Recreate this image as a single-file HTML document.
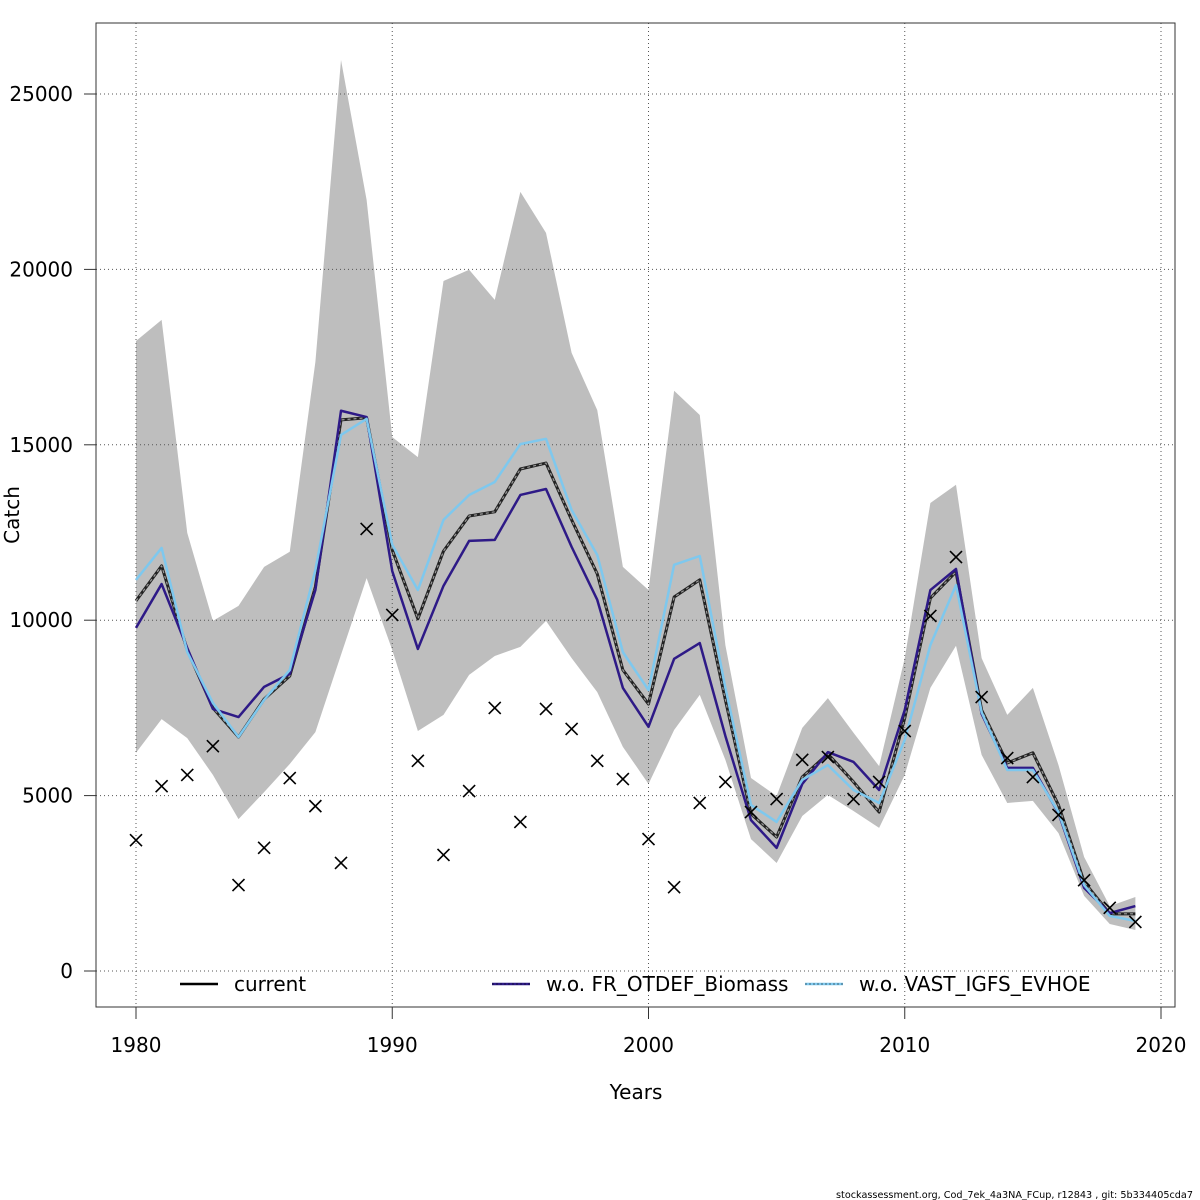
<!DOCTYPE html>
<html><head><meta charset="utf-8"><style>
html,body{margin:0;padding:0;background:#fff;}
svg{display:block;font-family:"DejaVu Sans","Liberation Sans",sans-serif;}
</style></head><body>
<svg id="chart" width="1200" height="1200" viewBox="0 0 1200 1200"></svg>
<script>
const years=[];for(let y=1980;y<=2019;y++)years.push(y);
const upper=[17960,18560,12490,9980,10410,11520,11950,17360,25970,21980,15220,14650,19670,19990,19130,22210,21040,17620,15990,11520,10860,16540,15850,9290,5500,4990,6930,7780,6790,5840,8920,13340,13860,8920,7300,8070,5870,3250,1850,2110];
const lower=[6220,7180,6640,5590,4330,5100,5900,6810,9010,11200,9150,6840,7300,8440,8980,9240,9980,8920,7950,6390,5330,6870,7870,6020,3760,3080,4420,5020,4560,4080,5590,8070,9270,6160,4790,4850,3930,2140,1340,1170];
const current=[10550,11550,9150,7500,6670,7750,8410,10950,15710,15770,12000,10040,11970,12970,13090,14310,14480,12860,11320,8580,7610,10660,11150,7730,4480,3820,5530,6190,5390,4530,7210,10630,11380,7440,5930,6220,4730,2540,1630,1630];
const woFR=[9780,11030,9210,7470,7240,8100,8470,10860,15970,15790,11400,9180,10980,12260,12290,13570,13740,12090,10580,8070,6960,8900,9350,6700,4300,3510,5330,6240,5960,5160,7440,10860,11460,7330,5790,5790,4500,2370,1650,1850];
const woVAST=[11150,12060,9090,7640,6670,7730,8580,11430,15280,15740,12150,10860,12860,13570,13940,15020,15170,13140,11860,9090,8010,11580,11830,8070,4730,4250,5450,5870,5160,4790,6590,9290,11000,7380,5730,5730,4530,2450,1570,1430];
const observed=[3730,5270,5590,6410,2450,3510,5500,4700,3080,12600,10150,5990,3310,5130,7500,4250,7470,6900,5990,5470,3760,2390,4790,5390,4530,4900,6020,6100,4900,5390,6840,10120,11800,7810,6070,5530,4450,2590,1800,1400];
const xTicks=[1980,1990,2000,2010,2020];
const yTicks=[0,5000,10000,15000,20000,25000];

const NS="http://www.w3.org/2000/svg";
const svg=document.getElementById('chart');
const X=v=>136+(v-1980)*25.625;
const Y=v=>971-v*(877/25000);
function el(t,a,p){const e=document.createElementNS(NS,t);for(const k in a)e.setAttribute(k,a[k]);(p||svg).appendChild(e);return e;}

let pts=years.map((y,i)=>X(y)+','+Y(upper[i]));
for(let i=years.length-1;i>=0;i--)pts.push(X(years[i])+','+Y(lower[i]));
const band=el('polygon',{points:pts.join(' '),fill:'#bebebe',stroke:'none'});



xTicks.forEach(t=>{const g=el('line',{x1:X(t),x2:X(t),y1:23,y2:1007,stroke:'#555','stroke-width':1,'stroke-dasharray':'1,3'});

});
yTicks.forEach(t=>{const g=el('line',{x1:96,x2:1175,y1:Y(t),y2:Y(t),stroke:'#555','stroke-width':1,'stroke-dasharray':'1,3'});

});

function line(arr,attrs,name){const d=years.map((y,i)=>X(y)+','+Y(arr[i])).join(' ');
const p=el('polyline',Object.assign({points:d,fill:'none','stroke-linejoin':'round'},attrs));

return p;}
line(current,{stroke:'#222','stroke-width':3},'current-line-base');
line(current,{stroke:'#999','stroke-width':1.2,'stroke-dasharray':'3,3'},'current-line');
line(woFR,{stroke:'#2e1a87','stroke-width':2.5},'wo-fr-otdef-line');
line(woVAST,{stroke:'#7ec8ee','stroke-width':2.5},'wo-vast-line');

years.forEach((y,i)=>{const cx=X(y),cy=Y(observed[i]);
const m=el('path',{d:`M${cx-6},${cy-6}L${cx+6},${cy+6}M${cx-6},${cy+6}L${cx+6},${cy-6}`,stroke:'#000','stroke-width':1.6});

});

const box=el('rect',{x:96,y:23,width:1079,height:984,fill:'none',stroke:'#333','stroke-width':1});



xTicks.forEach(t=>{const tk=el('line',{x1:X(t),x2:X(t),y1:1007,y2:1019,stroke:'#333'});


const tx=el('text',{x:X(t),y:1052,'text-anchor':'middle','font-size':20});tx.textContent=t;

});
yTicks.forEach(t=>{const tk=el('line',{x1:84,x2:96,y1:Y(t),y2:Y(t),stroke:'#333'});


const tx=el('text',{x:73,y:Y(t)+7,'text-anchor':'end','font-size':20});tx.textContent=t;

});

const xt=el('text',{x:636,y:1099,'text-anchor':'middle','font-size':20});xt.textContent='Years';


const yt=el('text',{x:19,y:515,'text-anchor':'middle','font-size':20,transform:'rotate(-90 19 515)'});yt.textContent='Catch';



const leg=[[180,'#000','current','legend-current'],[492,'#2e1a87','w.o. FR_OTDEF_Biomass','legend-wo-fr-otdef'],[805,'#7ec8ee','w.o. VAST_IGFS_EVHOE','legend-wo-vast']];
leg.forEach(l=>{const g=el('g',{});


el('line',{x1:l[0],x2:l[0]+38,y1:984,y2:984,stroke:l[1],'stroke-width':2.5},g);
if(l[3]!=='legend-current')el('line',{x1:l[0],x2:l[0]+38,y1:984,y2:984,stroke:'#000','stroke-width':1,'stroke-dasharray':'2,2','stroke-opacity':0.5},g);
const t=el('text',{x:l[0]+54,y:991,'font-size':20},g);t.textContent=l[2];});

const ft=el('text',{x:1193,y:1198,'text-anchor':'end','font-size':10,textLength:357,lengthAdjust:'spacingAndGlyphs'});ft.textContent='stockassessment.org, Cod_7ek_4a3NA_FCup, r12843 , git: 5b334405cda7';


</script>
</body></html>
